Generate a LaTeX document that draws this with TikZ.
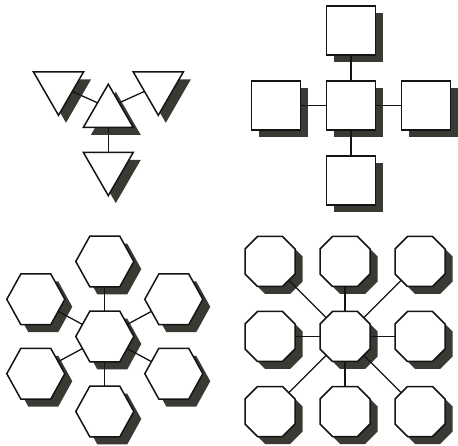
\documentclass[tikz,border=0pt]{standalone}
\definecolor{shadowgray}{RGB}{58,58,52}
\definecolor{inkc}{RGB}{20,20,20}
\newcommand\shptriup{(0,-23.5) -- (25,19.8) -- (-25,19.8) -- cycle}
\newcommand\shptridown{(-25,-13.2) -- (25,-13.2) -- (0,30.1) -- cycle}
\newcommand\shpsq{(-24.5,-24.5) rectangle (24.5,24.5)}
\newcommand\shphex{(-29,0) -- (-15,-25.3) -- (15,-25.3) -- (29,0) -- (15,25.3) -- (-15,25.3) -- cycle}
\newcommand\shpoct{(-12.5,-25) -- (12.5,-25) -- (25,-12.5) -- (25,12.5) -- (12.5,25) -- (-12.5,25) -- (-25,12.5) -- (-25,-12.5) -- cycle}
\newcommand\shadowat[2]{\path[shadowfill,shift={(#1)},shift={(7.5,7.5)}] #2;}
\newcommand\shapeat[2]{\path[shapeline,shift={(#1)}] #2;}
\begin{document}
\begin{tikzpicture}[x=1pt,y=-1pt,
  shapeline/.style={draw=inkc,line width=1.5pt,fill=white,line join=miter},
  shadowfill/.style={fill=shadowgray,draw=none},
  link/.style={draw=inkc,line width=1.3pt}]
\useasboundingbox[fill=white] (0,0) rectangle (458,446);
% centres
\coordinate (tC) at (108.3,107.7);
\coordinate (tL) at (58.5,85.2);
\coordinate (tR) at (158.3,85.2);
\coordinate (tB) at (108.3,165.5);
\coordinate (sC) at (351,105.5);
\coordinate (sT) at (351,30.5);
\coordinate (sB) at (351,180.5);
\coordinate (sL) at (276,105.5);
\coordinate (sR) at (426,105.5);
\coordinate (hC) at (104.8,336.5);
\coordinate (hT) at (104.8,261.5);
\coordinate (hB) at (104.8,411.5);
\coordinate (hTL) at (35.8,299.3);
\coordinate (hTR) at (173.8,299.3);
\coordinate (hBL) at (35.8,373.7);
\coordinate (hBR) at (173.8,373.7);
\foreach \c [count=\i] in {270,345,420}{
  \foreach \r [count=\j] in {261.5,336.5,411.5}{
    \coordinate (o\i\j) at (\c,\r);
  }
}
% shadows
\shadowat{tC}{\shptriup}
\foreach \n in {tL,tR,tB}{\shadowat{\n}{\shptridown}}
\foreach \n in {sC,sT,sB,sL,sR}{\shadowat{\n}{\shpsq}}
\foreach \n in {hC,hT,hB,hTL,hTR,hBL,hBR}{\shadowat{\n}{\shphex}}
\foreach \n in {o11,o12,o13,o21,o22,o23,o31,o32,o33}{\shadowat{\n}{\shpoct}}
% connectors
\foreach \n in {tL,tR,tB}{\draw[link] (tC) -- (\n);}
\foreach \n in {sT,sB,sL,sR}{\draw[link] (sC) -- (\n);}
\foreach \n in {hT,hB,hTL,hTR,hBL,hBR}{\draw[link] (hC) -- (\n);}
\foreach \n in {o11,o12,o13,o21,o23,o31,o32,o33}{\draw[link] (o22) -- (\n);}
% shapes
\shapeat{tC}{\shptriup}
\foreach \n in {tL,tR,tB}{\shapeat{\n}{\shptridown}}
\foreach \n in {sC,sT,sB,sL,sR}{\shapeat{\n}{\shpsq}}
\foreach \n in {hC,hT,hB,hTL,hTR,hBL,hBR}{\shapeat{\n}{\shphex}}
\foreach \n in {o11,o12,o13,o21,o22,o23,o31,o32,o33}{\shapeat{\n}{\shpoct}}
\end{tikzpicture}
\end{document}
